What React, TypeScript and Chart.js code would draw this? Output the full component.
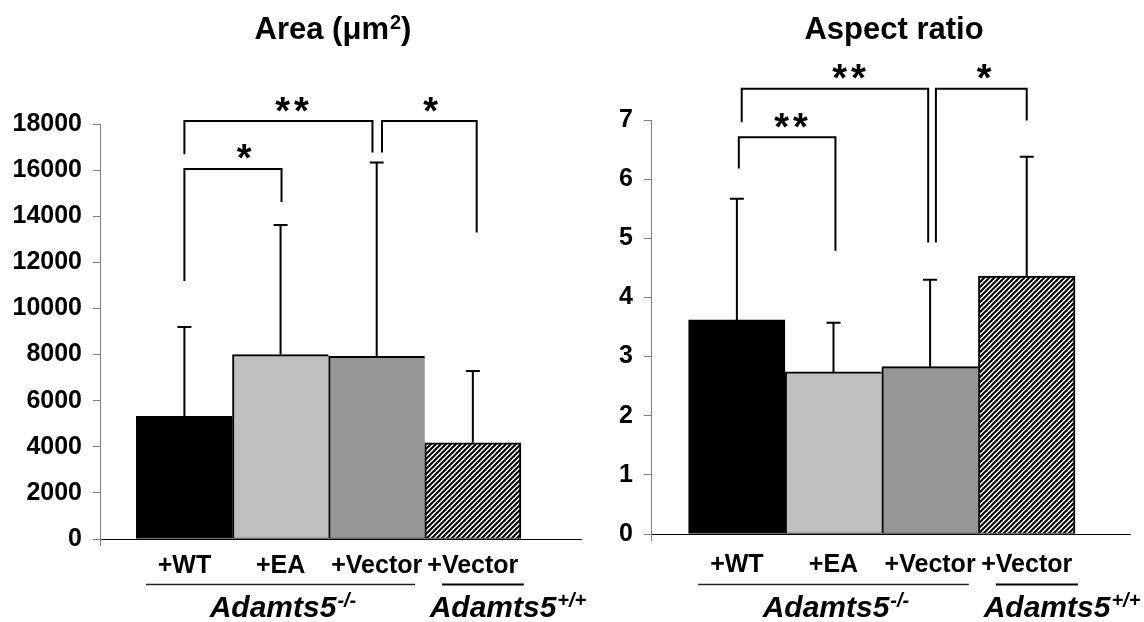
import React, { useEffect, useRef } from "react";
import { Chart, registerables } from "chart.js";

Chart.register(...registerables);

// ---------- data ----------
const categories = ["+WT", "+EA", "+Vector", "+Vector"];

const areaMeans = [5320, 8000, 7920, 4170];
const areaErrors = [3880, 5620, 8410, 3120];
const areaTicks = [0, 2000, 4000, 6000, 8000, 10000, 12000, 14000, 16000, 18000];

const ratioMeans = [3.62, 2.74, 2.83, 4.36];
const ratioErrors = [2.05, 0.83, 1.47, 2.02];
const ratioTicks = [0, 1, 2, 3, 4, 5, 6, 7];

// significance brackets (x in category index units, y in data units)
const areaBrackets = [
  { from: 0, to: 1.01, top: 16050, leftEnd: 11190, rightEnd: 14620, label: "*", labelAt: 0.62 },
  { from: 0, to: 1.956, top: 18130, leftEnd: 16690, rightEnd: 16760, label: "**", labelAt: 1.12 },
  { from: 2.055, to: 3.04, top: 18130, leftEnd: 16760, rightEnd: 13290, label: "*", labelAt: 2.56 },
];
const ratioBrackets = [
  { from: 0.02, to: 1.02, top: 6.71, leftEnd: 6.18, rightEnd: 4.79, label: "**", labelAt: 0.56 },
  { from: 0.05, to: 1.98, top: 7.53, leftEnd: 6.96, rightEnd: 4.93, label: "**", labelAt: 1.16 },
  { from: 2.06, to: 3.0, top: 7.53, leftEnd: 4.93, rightEnd: 6.99, label: "*", labelAt: 2.56 },
];

// genotype groups under the axis
const groupNames = ["Adamts5", "Adamts5"];
const groupSups = ["-/-", "+/+"];
const groupFrom = [-0.4, 2.68];
const groupTo = [2.4, 3.53];
const groupAt = [1.02, 3.36];

// titles: [main text, superscript, closing text]
const areaTitle = ["Area (\u03bcm", "2", ")"];
const ratioTitle = ["Aspect ratio", "", ""];

const FONT = "'Liberation Sans', Arial, Helvetica, sans-serif";

function makeHatch(): CanvasPattern | string {
  const c = document.createElement("canvas");
  c.width = 5;
  c.height = 5;
  const g = c.getContext("2d");
  if (!g) return "#888";
  g.fillStyle = "#fff";
  g.fillRect(0, 0, 5, 5);
  g.strokeStyle = "#000";
  g.lineWidth = 2;
  for (const o of [-5, 0, 5]) {
    g.beginPath();
    g.moveTo(o - 1, 6);
    g.lineTo(o + 6, -1);
    g.stroke();
  }
  return g.createPattern(c, "repeat") || "#888";
}

type Bracket = { from: number; to: number; top: number; leftEnd: number; rightEnd: number; label: string; labelAt: number };

interface Spec {
  title: string[];
  titleX: number;
  means: number[];
  errors: number[];
  ticks: number[];
  brackets: Bracket[];
  xMin: number;
  xMax: number;
  left: number;
  width: number;
  padTop: number;
  padRight: number;
  yWidth: number;
  xHeight: number;
  xPad: number;
}

function buildConfig(spec: Spec): any {
  const hatch = makeHatch();
  const colors = ["#000000", "#c0c0c0", "#969696", hatch];

  const plugin = {
    id: "annot",
    afterDatasetsDraw(chart: any) {
      const ctx = chart.ctx;
      const xs = chart.scales.x;
      const ys = chart.scales.y;
      ctx.save();
      ctx.strokeStyle = "#000";
      ctx.lineWidth = 2;
      spec.means.forEach((m, i) => {
        const x = xs.getPixelForValue(i);
        const y0 = ys.getPixelForValue(m);
        const y1 = ys.getPixelForValue(m + spec.errors[i]);
        ctx.beginPath();
        ctx.moveTo(x, y0);
        ctx.lineTo(x, y1);
        ctx.moveTo(x - 7, y1);
        ctx.lineTo(x + 7, y1);
        ctx.stroke();
      });
      ctx.restore();
    },
    afterDraw(chart: any) {
      const ctx = chart.ctx;
      const xs = chart.scales.x;
      const ys = chart.scales.y;
      const area = chart.chartArea;
      ctx.save();

      // y axis stub below zero line
      ctx.strokeStyle = "#808080";
      ctx.lineWidth = 1;
      ctx.beginPath();
      ctx.moveTo(Math.round(area.left) + 0.5, area.bottom);
      ctx.lineTo(Math.round(area.left) + 0.5, area.bottom + 7);
      ctx.stroke();

      // title (with optional superscript)
      ctx.fillStyle = "#000";
      ctx.textAlign = "left";
      ctx.textBaseline = "alphabetic";
      const [t0, tSup, t1] = spec.title;
      ctx.font = `bold 31px ${FONT}`;
      const w0 = ctx.measureText(t0).width;
      const w2 = t1 ? ctx.measureText(t1).width : 0;
      ctx.font = `bold 20px ${FONT}`;
      const w1 = tSup ? ctx.measureText(tSup).width + 1 : 0;
      let tx = spec.titleX - (w0 + w1 + w2) / 2;
      ctx.font = `bold 31px ${FONT}`;
      ctx.fillText(t0, tx, 39);
      tx += w0;
      if (tSup) {
        ctx.font = `bold 20px ${FONT}`;
        ctx.fillText(tSup, tx + 1, 29);
        tx += w1;
      }
      if (t1) {
        ctx.font = `bold 31px ${FONT}`;
        ctx.fillText(t1, tx, 39);
      }

      // brackets
      ctx.textAlign = "center";
      ctx.strokeStyle = "#000";
      ctx.lineWidth = 2;
      ctx.font = `bold 38px ${FONT}`;
      const spacing = 4;
      (ctx as any).letterSpacing = `${spacing}px`;
      spec.brackets.forEach((b) => {
        const xl = xs.getPixelForValue(b.from);
        const xr = xs.getPixelForValue(b.to);
        const yt = ys.getPixelForValue(b.top);
        ctx.beginPath();
        ctx.moveTo(xl, ys.getPixelForValue(b.leftEnd));
        ctx.lineTo(xl, yt);
        ctx.lineTo(xr, yt);
        ctx.lineTo(xr, ys.getPixelForValue(b.rightEnd));
        ctx.stroke();
        const m = ctx.measureText(b.label);
        const cy = yt - 17;
        const base = cy + (m.actualBoundingBoxAscent - m.actualBoundingBoxDescent) / 2;
        ctx.fillText(b.label, xs.getPixelForValue(b.labelAt) + spacing / 2, base);
      });
      (ctx as any).letterSpacing = "0px";

      // genotype groups
      groupNames.forEach((name, i) => {
        const x0 = xs.getPixelForValue(groupFrom[i]);
        const x1 = xs.getPixelForValue(groupTo[i]);
        ctx.strokeStyle = i === 0 ? "#222" : "#000";
        ctx.lineWidth = i === 0 ? 1.5 : 2;
        ctx.beginPath();
        ctx.moveTo(x0, 584.5);
        ctx.lineTo(x1, 584.5);
        ctx.stroke();
        ctx.font = `italic bold 30px ${FONT}`;
        const a = ctx.measureText(name).width;
        ctx.font = `italic bold 20px ${FONT}`;
        const b = ctx.measureText(groupSups[i]).width;
        const start = xs.getPixelForValue(groupAt[i]) - (a + b) / 2;
        ctx.textAlign = "left";
        ctx.font = `italic bold 30px ${FONT}`;
        ctx.fillText(name, start, 617);
        ctx.font = `italic bold 20px ${FONT}`;
        ctx.fillText(groupSups[i], start + a + 1, 607);
        ctx.textAlign = "center";
      });
      ctx.restore();
    },
  };

  const tickFont = { family: FONT, size: 25, weight: "bold" as const };

  return {
    type: "bar",
    data: {
      datasets: [
        {
          data: spec.means.map((v, i) => ({ x: i, y: v })),
          backgroundColor: colors,
          borderColor: "#000",
          borderSkipped: false,
          borderWidth: (c: any) => ({ top: 2, left: 2, right: c.dataIndex === 3 ? 2 : 0, bottom: 1 }),
          categoryPercentage: 1,
          barPercentage: 1,
        },
      ],
    },
    options: {
      animation: false,
      responsive: false,
      devicePixelRatio: 1,
      layout: { padding: { top: spec.padTop, right: spec.padRight, left: 0, bottom: 0 } },
      plugins: { legend: { display: false }, tooltip: { enabled: false }, title: { display: false } },
      scales: {
        x: {
          type: "linear",
          bounds: "data",
          min: spec.xMin,
          max: spec.xMax,
          offset: false,
          grid: { display: false, offset: false },
          border: { display: true, color: "#000", width: 1 },
          afterBuildTicks: (s: any) => {
            s.ticks = categories.map((_, i) => ({ value: i }));
          },
          afterFit: (s: any) => {
            s.height = spec.xHeight;
          },
          ticks: {
            autoSkip: false,
            maxRotation: 0,
            minRotation: 0,
            padding: spec.xPad,
            color: "#000",
            font: tickFont,
            callback: (v: any) => categories[Math.round(Number(v))] ?? "",
          },
        },
        y: {
          type: "linear",
          min: 0,
          max: spec.ticks[spec.ticks.length - 1],
          afterBuildTicks: (s: any) => {
            s.ticks = spec.ticks.map((v) => ({ value: v }));
          },
          afterFit: (s: any) => {
            s.width = spec.yWidth;
          },
          grid: { drawOnChartArea: false, drawTicks: true, tickLength: 7, color: "#808080", lineWidth: 1 },
          border: { display: true, color: "#808080", width: 1 },
          ticks: {
            padding: 11,
            color: "#000",
            font: tickFont,
            callback: (v: any) => String(v),
          },
        },
      },
    },
    plugins: [plugin],
  };
}

const areaSpec: Spec = {
  title: areaTitle,
  titleX: 333,
  means: areaMeans,
  errors: areaErrors,
  ticks: areaTicks,
  brackets: areaBrackets,
  xMin: -0.878,
  xMax: 4.125,
  left: 0,
  width: 600,
  padTop: 124,
  padRight: 19,
  yWidth: 100,
  xHeight: 83,
  xPad: 4,
};

const ratioSpec: Spec = {
  title: ratioTitle,
  titleX: 322,
  means: ratioMeans,
  errors: ratioErrors,
  ticks: ratioTicks,
  brackets: ratioBrackets,
  xMin: -0.889,
  xMax: 4.069,
  left: 572,
  width: 572,
  padTop: 120,
  padRight: 14,
  yWidth: 79,
  xHeight: 88,
  xPad: 8,
};

function Panel({ spec }: { spec: Spec }) {
  const ref = useRef<HTMLCanvasElement | null>(null);
  useEffect(() => {
    if (!ref.current) return;
    const chart = new Chart(ref.current, buildConfig(spec));
    return () => chart.destroy();
  }, [spec]);
  return (
    <canvas
      ref={ref}
      width={spec.width}
      height={622}
      style={{ position: "absolute", left: spec.left, top: 0, width: spec.width, height: 622 }}
    />
  );
}

export default function App() {
  return (
    <div style={{ position: "absolute", left: 0, top: 0, width: 1144, height: 622, background: "#fff", overflow: "hidden" }}>
      <Panel spec={areaSpec} />
      <Panel spec={ratioSpec} />
    </div>
  );
}
